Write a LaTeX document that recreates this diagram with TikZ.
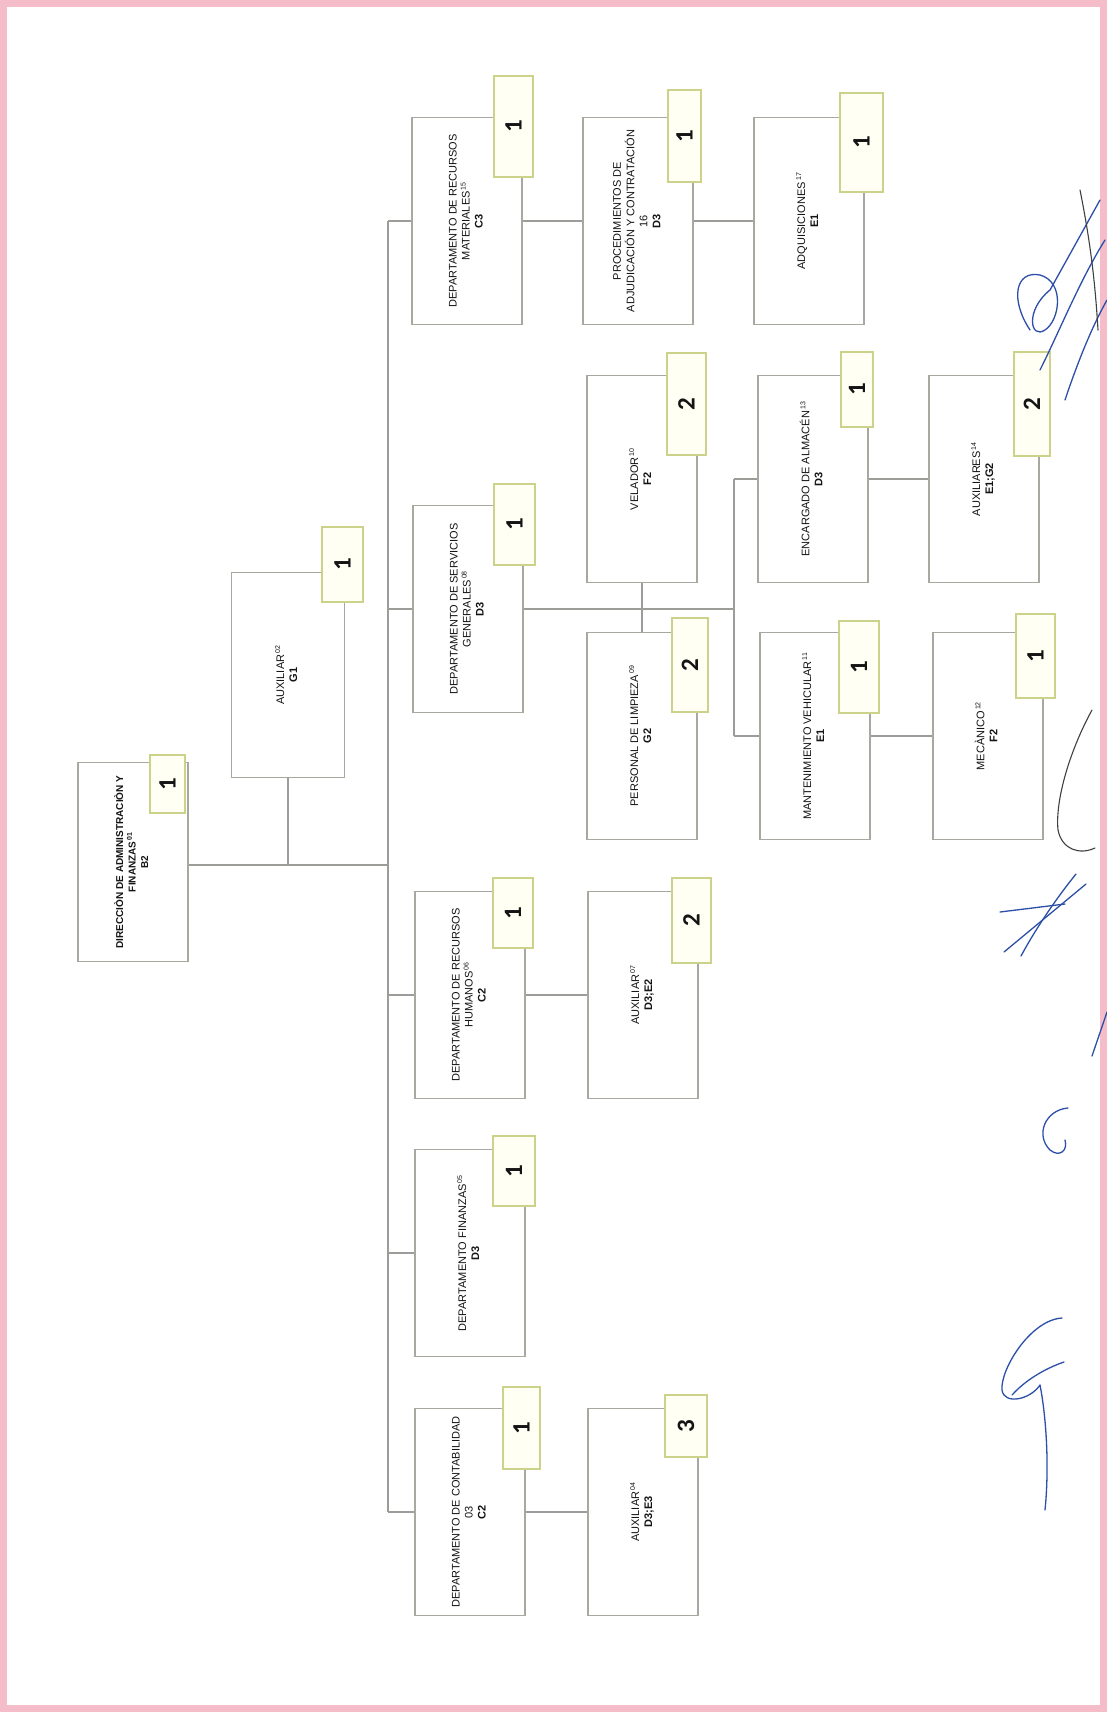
\documentclass[tikz,border=0pt]{standalone}
\usepackage{fontspec}
\setmainfont{Liberation Sans}
\newfontfamily\numfont{Carlito}
\definecolor{boxc}{HTML}{A8A8A0}
\definecolor{badgec}{HTML}{CDD28A}
\definecolor{badgefill}{HTML}{FFFFF4}
\definecolor{linec}{HTML}{9C9C98}
\definecolor{txt}{HTML}{141414}
\definecolor{pinkc}{HTML}{F5BCCA}
\definecolor{sigblue}{HTML}{2C4FA8}
\newcommand\mybox[4]{\node[orgbox] (#1) at (#2,#3) {\rotatebox{90}{\begin{tabular}{@{}c@{}}#4\end{tabular}}};}
\newcommand\mybadge[6]{\node[badgebox, minimum width={#4-#2}, minimum height={#5-#3}] (#1) at ({(#2+#4)/2},{(#3+#5)/2}) {\rotatebox{90}{#6}};}
\newcommand\supnum[1]{\textsuperscript{\fontsize{7}{7}\selectfont\,#1}}
\begin{document}
\begin{tikzpicture}[x=1pt,y=-1pt,
  orgbox/.style={draw=boxc, fill=white, line width=1.2pt, minimum width=110pt, minimum height=207pt, inner sep=0pt, font=\fontsize{11}{13}\selectfont, text=txt},
  badgebox/.style={draw=badgec, fill=badgefill, line width=1.3pt, inner sep=0pt, font=\numfont\bfseries\fontsize{25}{25}\selectfont, text=txt},
  conn/.style={draw=linec, line width=1.5pt},
  sig/.style={draw=sigblue, line width=1.3pt, line cap=round, line join=round},
  sigk/.style={draw=black!75, line width=1.1pt, line cap=round}]
\useasboundingbox (0,0) rectangle (1107,1712);
\fill[white] (0,0) rectangle (1107,1712);
\draw[pinkc, line width=7pt] (3.5,3.5) rectangle (1103.5,1708.5);

% boxes
\node[orgbox, minimum height=199pt, font=\bfseries\fontsize{10}{12.5}\selectfont] (dir) at (133,862) {\rotatebox{90}{\begin{tabular}{@{}c@{}}DIRECCIÒN DE ADMINISTRACIÒN Y\\FINANZAS\supnum{01}\\B2\end{tabular}}};
\node[orgbox, minimum width=113pt, minimum height=205pt] (aux02) at (288,675) {\rotatebox{90}{\begin{tabular}{@{}c@{}}AUXILIAR\supnum{02}\\\textbf{G1}\end{tabular}}};
\mybox{mat}{467}{221}{DEPARTAMENTO DE RECURSOS\\MATERIALES\supnum{15}\\\textbf{C3}}
\mybox{proc}{638}{221}{PROCEDIMIENTOS DE\\ADJUDICACIÓN Y CONTRATACIÓN\\16\\\textbf{D3}}
\mybox{adq}{809}{221}{ADQUISICIONES\supnum{17}\\\textbf{E1}}
\mybox{serv}{468}{609}{DEPARTAMENTO DE SERVICIOS\\GENERALES\supnum{08}\\\textbf{D3}}
\mybox{vel}{642}{479}{VELADOR\supnum{10}\\\textbf{F2}}
\mybox{lim}{642}{736}{PERSONAL DE LIMPIEZA\supnum{09}\\\textbf{G2}}
\mybox{enc}{813}{479}{ENCARGADO DE ALMACÉN\supnum{13}\\\textbf{D3}}
\mybox{auxb}{984}{479}{AUXILIARES\supnum{14}\\\textbf{E1;G2}}
\mybox{mant}{815}{736}{MANTENIMIENTO VEHICULAR\supnum{11}\\\textbf{E1}}
\mybox{mec}{988}{736}{MECÀNICO\supnum{12}\\\textbf{F2}}
\mybox{rh}{470}{995}{DEPARTAMENTO DE RECURSOS\\HUMANOS\supnum{06}\\\textbf{C2}}
\mybox{aux07}{643}{995}{AUXILIAR\supnum{07}\\\textbf{D3;E2}}
\mybox{fin}{470}{1253}{DEPARTAMENTO FINANZAS\supnum{05}\\\textbf{D3}}
\mybox{cont}{470}{1512}{DEPARTAMENTO DE CONTABILIDAD\\03\\\textbf{C2}}
\mybox{aux04}{643}{1512}{AUXILIAR\supnum{04}\\\textbf{D3;E3}}

% connectors
\coordinate (sp) at (388,865);
\coordinate (sj) at (734,609);
\draw[conn] (dir.east |- sp) -- (sp);
\draw[conn] (aux02.south) -- (aux02.south |- sp);
\draw[conn] (mat.west -| sp) -- (cont.west -| sp);
\foreach \d in {mat,serv,rh,fin,cont} \draw[conn] (\d.west -| sp) -- (\d.west);
\draw[conn] (mat.east) -- (proc.west);
\draw[conn] (proc.east) -- (adq.west);
\draw[conn] (serv.east) -- (sj);
\draw[conn] (vel.south) -- (lim.north);
\draw[conn] (enc.west -| sj) -- (mant.west -| sj);
\draw[conn] (enc.west -| sj) -- (enc.west);
\draw[conn] (mant.west -| sj) -- (mant.west);
\draw[conn] (enc.east) -- (auxb.west);
\draw[conn] (mant.east) -- (mec.west);
\draw[conn] (rh.east) -- (aux07.west);
\draw[conn] (cont.east) -- (aux04.west);

% badges
\mybadge{bdir}{150}{755}{185}{813}{1}
\mybadge{baux02}{322}{527}{363}{602}{1}
\mybadge{bmat}{494}{76}{533}{177}{1}
\mybadge{bproc}{668}{90}{701}{182}{1}
\mybadge{badq}{840}{93}{883}{192}{1}
\mybadge{bserv}{494}{484}{535}{565}{1}
\mybadge{bvel}{667}{353}{706}{455}{2}
\mybadge{benc}{841}{352}{873}{427}{1}
\mybadge{bauxb}{1014}{352}{1050}{456}{2}
\mybadge{blim}{672}{618}{708}{712}{2}
\mybadge{bmant}{839}{621}{879}{713}{1}
\mybadge{bmec}{1016}{614}{1055}{698}{1}
\mybadge{brh}{493}{878}{533}{948}{1}
\mybadge{baux07}{672}{878}{711}{963}{2}
\mybadge{bfin}{493}{1136}{535}{1206}{1}
\mybadge{bcont}{503}{1387}{540}{1469}{1}
\mybadge{baux04}{665}{1395}{707}{1457}{3}

% signatures
\draw[sig] (1030,330) .. controls (1010,300) and (1015,270) .. (1040,275) .. controls (1065,282) and (1060,320) .. (1045,330) .. controls (1030,340) and (1025,310) .. (1050,290) -- (1100,200);
\draw[sig] (1040,370) .. controls (1060,330) and (1080,280) .. (1105,240);
\draw[sig] (1065,400) .. controls (1075,370) and (1090,330) .. (1107,300);
\draw[sigk] (1080,190) .. controls (1090,240) and (1095,280) .. (1098,330);
\draw[sigk] (1092,710) .. controls (1070,750) and (1055,800) .. (1058,830) .. controls (1062,850) and (1080,855) .. (1095,848);
\draw[sig] (1086,884) -- (1004,952);
\draw[sig] (1076,874) .. controls (1055,900) and (1035,930) .. (1021,956);
\draw[sig] (1000,912) -- (1065,904);
\draw[sig] (1107,1012) -- (1092,1056);
\draw[sig] (1068,1108) .. controls (1045,1110) and (1035,1135) .. (1050,1150) .. controls (1060,1158) and (1068,1150) .. (1065,1140);
\draw[sig] (1062,1318) .. controls (1030,1320) and (1000,1370) .. (1002,1390) .. controls (1004,1405) and (1030,1400) .. (1040,1385) .. controls (1045,1410) and (1050,1460) .. (1045,1510);
\draw[sig] (1012,1395) .. controls (1030,1375) and (1055,1365) .. (1064,1362);
\end{tikzpicture}
\end{document}
